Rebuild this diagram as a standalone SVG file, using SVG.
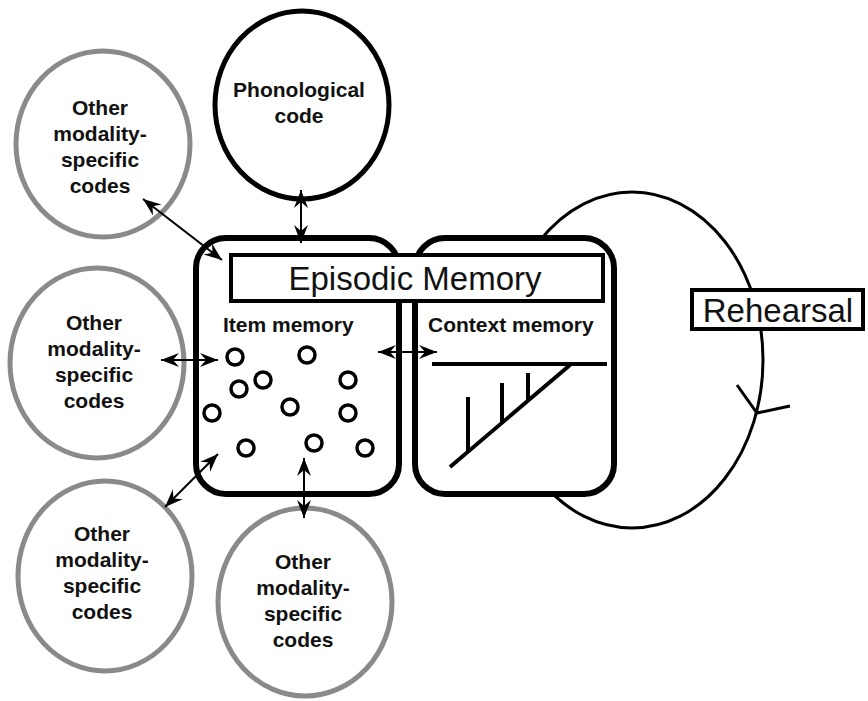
<svg xmlns="http://www.w3.org/2000/svg" width="868" height="701" viewBox="0 0 868 701">
  <style>
    .lbl { font-family: "Liberation Sans", Arial, Helvetica, sans-serif; font-weight: bold; font-size: 21px; fill: #111; text-anchor: middle; }
    .big { font-family: "Liberation Sans", Arial, Helvetica, sans-serif; font-size: 33px; fill: #111; text-anchor: middle; }
    .code { fill: #fff; stroke: #8a8a8a; stroke-width: 5; }
    .box { fill: #fff; stroke: #000; stroke-width: 6; }
    .frame { fill: #fff; stroke: #000; stroke-width: 4; }
    .dot { fill: none; stroke: #000; stroke-width: 3.5; }
    .conn { stroke: #000; stroke-width: 2; fill: none; marker-start: url(#head); marker-end: url(#head); }
  </style>
  <defs>
    <marker id="head" viewBox="-19 -8 20 16" refX="0" refY="0" markerWidth="20" markerHeight="16" markerUnits="userSpaceOnUse" orient="auto-start-reverse">
      <path d="M0,0 L-18,-7 L-12,0 L-18,7 Z" fill="#000"/>
    </marker>
  </defs>
  <rect width="868" height="701" fill="#fff"/>

  <!-- rehearsal loop -->
  <g id="rehearsal-loop">
    <ellipse cx="632" cy="360" rx="131" ry="168" fill="none" stroke="#000" stroke-width="3"/>
    <polyline points="737,385 757,413 790,406" fill="none" stroke="#000" stroke-width="3"/>
  </g>

  <!-- episodic memory stores -->
  <g id="item-memory">
    <rect class="box" x="196" y="238" width="203" height="256" rx="30"/>
    <text class="lbl" x="223" y="332" style="text-anchor:start">Item memory</text>
    <circle class="dot" cx="235" cy="357" r="8"/>
    <circle class="dot" cx="307" cy="355" r="8"/>
    <circle class="dot" cx="263" cy="380" r="8"/>
    <circle class="dot" cx="239" cy="389" r="8"/>
    <circle class="dot" cx="348" cy="380" r="8"/>
    <circle class="dot" cx="212" cy="413" r="8"/>
    <circle class="dot" cx="290" cy="407" r="8"/>
    <circle class="dot" cx="348" cy="413" r="8"/>
    <circle class="dot" cx="246" cy="448" r="8"/>
    <circle class="dot" cx="314" cy="443" r="8"/>
    <circle class="dot" cx="365" cy="448" r="8"/>
  </g>
  <g id="context-memory">
    <rect class="box" x="415" y="238" width="199" height="256" rx="30"/>
    <text class="lbl" x="428" y="332" style="text-anchor:start">Context memory</text>
    <g stroke="#000" stroke-width="4" fill="none">
      <line x1="432" y1="364" x2="607" y2="364"/>
      <line x1="450" y1="467" x2="570" y2="365"/>
      <line x1="468" y1="397" x2="468" y2="452"/>
      <line x1="502" y1="383" x2="502" y2="423"/>
      <line x1="528" y1="373" x2="528" y2="401"/>
    </g>
  </g>
  <g id="episodic-memory">
    <rect class="frame" x="231" y="255" width="372" height="46"/>
    <text class="big" x="415" y="290">Episodic Memory</text>
  </g>
  <g id="rehearsal">
    <rect class="frame" x="692" y="290" width="171" height="39"/>
    <text class="big" x="778" y="322">Rehearsal</text>
  </g>

  <!-- codes -->
  <g id="phonological-code">
    <ellipse cx="302" cy="105" rx="87" ry="94" fill="#fff" stroke="#000" stroke-width="5"/>
    <text class="lbl" x="299" y="97">Phonological</text>
    <text class="lbl" x="299" y="123">code</text>
  </g>
  <g id="code-top-left">
    <ellipse class="code" cx="103" cy="144" rx="87" ry="93"/>
    <text class="lbl" x="100" y="115">Other</text>
    <text class="lbl" x="100" y="141">modality-</text>
    <text class="lbl" x="100" y="167">specific</text>
    <text class="lbl" x="100" y="193">codes</text>
  </g>
  <g id="code-middle-left">
    <ellipse class="code" cx="97" cy="363" rx="87" ry="95"/>
    <text class="lbl" x="94" y="330">Other</text>
    <text class="lbl" x="94" y="356">modality-</text>
    <text class="lbl" x="94" y="382">specific</text>
    <text class="lbl" x="94" y="408">codes</text>
  </g>
  <g id="code-bottom-left">
    <ellipse class="code" cx="105" cy="576" rx="87" ry="95"/>
    <text class="lbl" x="102" y="541">Other</text>
    <text class="lbl" x="102" y="567">modality-</text>
    <text class="lbl" x="102" y="593">specific</text>
    <text class="lbl" x="102" y="619">codes</text>
  </g>
  <g id="code-bottom-center">
    <ellipse class="code" cx="305" cy="602" rx="87" ry="94"/>
    <text class="lbl" x="303" y="569">Other</text>
    <text class="lbl" x="303" y="595">modality-</text>
    <text class="lbl" x="303" y="621">specific</text>
    <text class="lbl" x="303" y="647">codes</text>
  </g>

  <!-- two-way links -->
  <g id="connectors">
    <line class="conn" x1="301" y1="190" x2="301" y2="243"/>
    <line class="conn" x1="143" y1="199" x2="222" y2="260"/>
    <line class="conn" x1="161" y1="360" x2="218" y2="360"/>
    <line class="conn" x1="165" y1="507" x2="218" y2="454"/>
    <line class="conn" x1="304" y1="458" x2="304" y2="518"/>
    <line class="conn" x1="378" y1="352" x2="437" y2="352"/>
  </g>
</svg>
